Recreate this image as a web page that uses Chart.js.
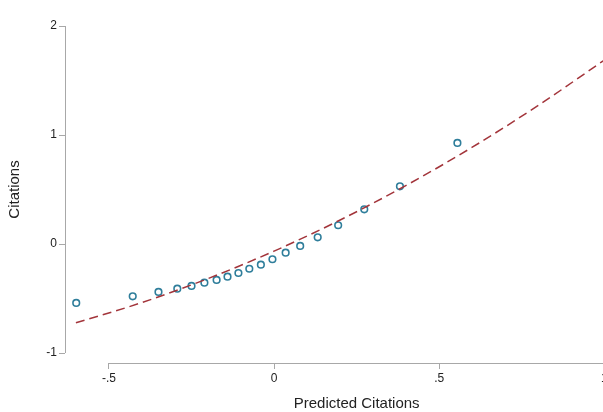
<!DOCTYPE html>
<html>
<head>
<meta charset="utf-8">
<script src="https://cdn.jsdelivr.net/npm/chart.js@4"></script>
<style>
    body { margin: 0; overflow: hidden; background: #fff; }
    #caixa { position: absolute; left: 0; top: 0; width: 610px; height: 412px; }
</style>
</head>
<body>
<div id="caixa"><canvas id="grafico"></canvas></div>
<script>
// médias por faixa (binscatter)
var valoresX = [-0.599, -0.428, -0.350, -0.293, -0.250, -0.211, -0.174, -0.141, -0.108, -0.075,
    -0.040, -0.005, 0.035, 0.079, 0.132, 0.194, 0.273, 0.381, 0.555];
var valoresY = [-0.541, -0.480, -0.440, -0.410, -0.385, -0.355, -0.330, -0.300, -0.266, -0.227,
    -0.190, -0.140, -0.080, -0.018, 0.061, 0.172, 0.318, 0.529, 0.927];

// curva de ajuste (tracejada)
var ajusteX = [-0.6, -0.4, -0.2, 0, 0.2, 0.4, 0.6, 0.8, 1.0];
var ajusteY = [-0.723, -0.537, -0.317, -0.065, 0.220, 0.538, 0.888, 1.272, 1.688];

var ticksX = [-0.5, 0, 0.5, 1];
var rotulosX = ['-.5', '0', '.5', '1'];
var ticksY = [-1, 0, 1, 2];
var rotulosY = ['-1', '0', '1', '2'];

var tituloX = 'Predicted Citations';
var tituloY = 'Citations';

var corEixo = '#a8a8a8';
var corTexto = '#222';
var fonte = 'Liberation Sans, Arial, sans-serif';

function pares(xs, ys) {
    return xs.map((x, i) => ({ x: x, y: ys[i] }));
}

// linhas dos eixos só entre o primeiro e o último tick, como no Stata,
// e os títulos centrados nessas linhas
const eixos = {
    id: 'eixos',
    afterDraw(chart) {
        const ctx = chart.ctx;
        const x = chart.scales.x;
        const y = chart.scales.y;
        const area = chart.chartArea;
        const y0 = y.getPixelForValue(ticksY[0]);
        const y1 = y.getPixelForValue(ticksY[ticksY.length - 1]);
        const x0 = x.getPixelForValue(ticksX[0]);
        const x1 = x.getPixelForValue(ticksX[ticksX.length - 1]);

        ctx.save();
        ctx.strokeStyle = corEixo;
        ctx.lineWidth = 1;
        ctx.beginPath();
        ctx.moveTo(area.left + 0.5, y0);
        ctx.lineTo(area.left + 0.5, y1);
        ctx.moveTo(x0, area.bottom + 0.5);
        ctx.lineTo(x1, area.bottom + 0.5);
        ctx.stroke();

        ctx.fillStyle = corTexto;
        ctx.font = '15px ' + fonte;
        ctx.textAlign = 'center';
        ctx.textBaseline = 'middle';
        ctx.fillText(tituloX, (x0 + x1) / 2, 404);

        ctx.translate(15, (y0 + y1) / 2);
        ctx.rotate(-Math.PI / 2);
        ctx.fillText(tituloY, 0, 0);
        ctx.restore();
    }
};

new Chart(document.getElementById('grafico'), {
    type: 'scatter',
    data: {
        datasets: [
            {
                label: 'Citations',
                data: pares(valoresX, valoresY),
                borderColor: '#2f7e9b',
                backgroundColor: 'rgba(0,0,0,0)',
                pointRadius: 3.3,
                pointBorderWidth: 1.6,
                showLine: false,
                order: 2
            },
            {
                label: 'Fitted',
                data: pares(ajusteX, ajusteY),
                type: 'line',
                borderColor: '#a3353b',
                borderWidth: 1.5,
                borderDash: [9, 5],
                pointRadius: 0,
                fill: false,
                cubicInterpolationMode: 'monotone',
                order: 1
            }
        ]
    },
    options: {
        responsive: true,
        maintainAspectRatio: false,
        animation: false,
        layout: { padding: { top: 26, right: 4.5, left: 0, bottom: 0 } },
        plugins: {
            legend: { display: false },
            tooltip: { enabled: false }
        },
        scales: {
            x: {
                type: 'linear',
                min: -0.633,
                max: 1,
                afterBuildTicks: (s) => { s.ticks = ticksX.map(v => ({ value: v })); },
                afterFit: (s) => { s.height = 49; },
                border: { display: false },
                grid: { drawOnChartArea: false, color: corEixo, tickLength: 6 },
                ticks: {
                    color: corTexto,
                    font: { family: fonte, size: 12 },
                    padding: 2,
                    maxRotation: 0,
                    autoSkip: false,
                    callback: (v) => rotulosX[ticksX.indexOf(v)]
                }
            },
            y: {
                type: 'linear',
                min: -1.0917,
                max: 2,
                afterBuildTicks: (s) => { s.ticks = ticksY.map(v => ({ value: v })); },
                afterFit: (s) => { s.width = 65; },
                border: { display: false },
                grid: { drawOnChartArea: false, color: corEixo, tickLength: 6 },
                ticks: {
                    color: corTexto,
                    font: { family: fonte, size: 12 },
                    padding: 2,
                    autoSkip: false,
                    callback: (v) => rotulosY[ticksY.indexOf(v)]
                }
            }
        }
    },
    plugins: [eixos]
});
</script>
</body>
</html>
